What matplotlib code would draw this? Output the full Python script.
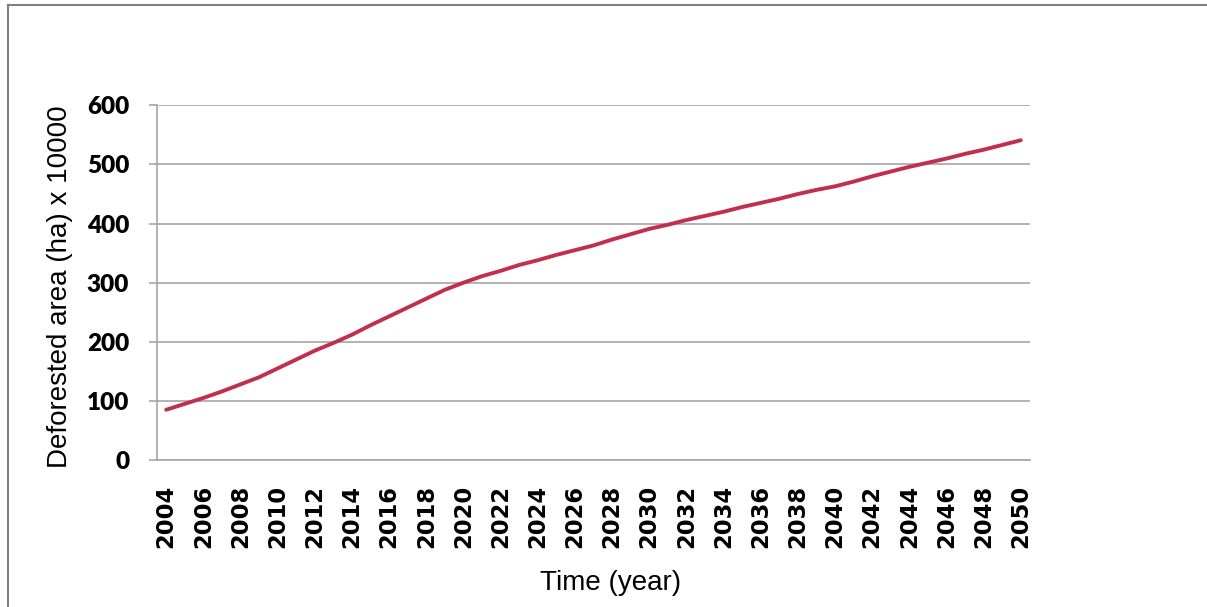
import matplotlib
matplotlib.use("Agg")
import matplotlib.pyplot as plt
from matplotlib.lines import Line2D

years = list(range(2004, 2051))
deforested = [85, 95, 105, 116, 128, 140, 155, 170, 185, 198,
              212, 228, 243, 258, 273, 288, 300, 311, 320, 330,
              338, 347, 355, 363, 373, 382, 391, 398, 406, 413,
              420, 428, 435, 442, 450, 457, 463, 471, 480, 488,
              496, 503, 510, 518, 525, 533, 541]
tick_years = list(range(2004, 2051, 2))
y_ticks = [0, 100, 200, 300, 400, 500, 600]

fig = plt.figure(figsize=(12.07, 6.07), dpi=100)
ax = fig.add_axes([0.130, 0.2422, 0.7234, 0.5842])

ax.plot(years, deforested, color="#c22f4c", lw=2.8, solid_capstyle="round")

ax.set_xlim(2003.5, 2050.5)
ax.set_ylim(0, 600)
ax.set_yticks(y_ticks)
ax.set_xticks(tick_years)
ax.set_xticklabels([str(t) for t in tick_years], rotation=90,
                   fontfamily="DejaVu Sans", fontweight="bold", fontsize=16.3)
ax.set_yticklabels([str(t) for t in y_ticks],
                   fontfamily="Lato", fontweight="heavy", fontsize=17.5)

ax.grid(axis="y", color="#a6a6a6", lw=1.2)
ax.set_axisbelow(True)
for s in ["top", "right"]:
    ax.spines[s].set_visible(False)
for s in ["left", "bottom"]:
    ax.spines[s].set_color("#a6a6a6")
    ax.spines[s].set_linewidth(1.2)

ax.tick_params(axis="y", length=6, width=1.2, color="#a6a6a6", pad=14)
ax.tick_params(axis="x", length=0, pad=18)

ax.set_ylabel("Deforested area (ha) x 10000", fontfamily="Liberation Sans",
              fontsize=20)
ax.yaxis.set_label_coords(-0.096, 0.49)
ax.set_xlabel("Time (year)", fontfamily="Liberation Sans", fontsize=20)
ax.xaxis.set_label_coords(0.52, -0.31)

# outer frame (top and left edges)
fig.add_artist(Line2D([8/1207, 1.0], [1 - 5/607, 1 - 5/607],
                      transform=fig.transFigure, color="#808080", lw=1.5))
fig.add_artist(Line2D([8/1207, 8/1207], [0.0, 1 - 5/607],
                      transform=fig.transFigure, color="#808080", lw=1.5))

fig.savefig("out.png", dpi=100)
